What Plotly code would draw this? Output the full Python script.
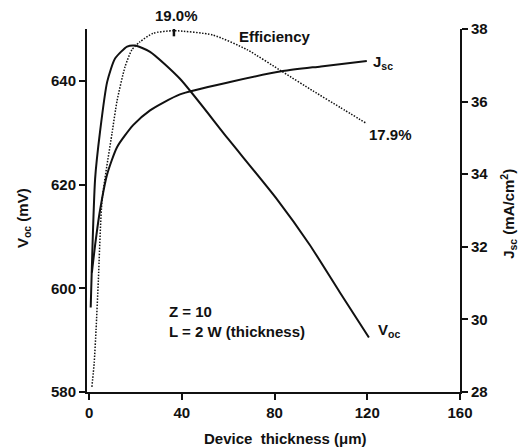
import plotly.graph_objects as go

# ---- data ----
voc_thickness = [0.7, 2.6, 4.7, 7.8, 11.2, 16.4, 19.8, 26.3, 39.2, 60.0, 81.0, 95.0, 108.2, 120.7]
voc_mv = [596.3, 621.1, 630.1, 639.8, 644.3, 646.6, 646.8, 645.6, 640.4, 628.8, 617.2, 608.5, 599.2, 590.5]

jsc_thickness = [1.2, 2.8, 4.7, 7.8, 12.1, 19.0, 26.3, 39.2, 60.8, 83.6, 100.0, 119.8]
jsc_ma = [31.29, 32.15, 33.0, 34.0, 34.75, 35.35, 35.76, 36.2, 36.54, 36.84, 36.97, 37.12]

eff_thickness = [1.2, 2.2, 3.0, 4.0, 5.6, 9.9, 12.1, 15.5, 18.5, 21.9, 27.6, 36.6, 53.4, 68.1, 83.6, 96.6, 108.2, 119.8]
eff_pct = [14.86, 15.14, 15.52, 16.1, 17.03, 17.81, 18.19, 18.58, 18.78, 18.87, 18.97, 19.0, 18.95, 18.78, 18.52, 18.30, 18.11, 17.92]

x_ticks = [0, 40, 80, 120, 160]
voc_ticks = [580, 600, 620, 640]
jsc_ticks = [28, 30, 32, 34, 36, 38]

FONT = "Liberation Sans, Arial, sans-serif"
BLACK = "#111111"

fig = go.Figure()

fig.add_trace(go.Scatter(x=voc_thickness, y=voc_mv, mode="lines", yaxis="y",
                         line=dict(color=BLACK, width=2, shape="spline", smoothing=0.6),
                         showlegend=False, hoverinfo="skip"))
fig.add_trace(go.Scatter(x=jsc_thickness, y=jsc_ma, mode="lines", yaxis="y2",
                         line=dict(color=BLACK, width=2, shape="spline", smoothing=0.6),
                         showlegend=False, hoverinfo="skip"))
fig.add_trace(go.Scatter(x=eff_thickness, y=eff_pct, mode="lines", yaxis="y3",
                         line=dict(color=BLACK, width=1.5, dash="1.5px,1.5px", shape="spline", smoothing=0.6),
                         showlegend=False, hoverinfo="skip"))

# peak marker on efficiency
i_pk = eff_pct.index(max(eff_pct))
fig.add_trace(go.Scatter(x=[eff_thickness[i_pk]], y=[eff_pct[i_pk]], mode="markers", yaxis="y3",
                         marker=dict(symbol="line-ns", size=8, line=dict(color=BLACK, width=2.5)),
                         showlegend=False, hoverinfo="skip"))

tickfont = dict(family=FONT, size=15, color=BLACK, weight="bold")
axis_common = dict(showline=True, linecolor=BLACK, linewidth=2, ticks="outside", ticklen=6,
                   tickwidth=2, tickcolor=BLACK, showgrid=False, zeroline=False, tickfont=tickfont)

fig.update_layout(
    width=521, height=447,
    margin=dict(l=87, r=61, t=29, b=55),
    paper_bgcolor="white", plot_bgcolor="white",
    xaxis=dict(range=[-0.9, 160], tickvals=x_ticks, **axis_common),
    yaxis=dict(range=[580, 650], tickvals=voc_ticks, **axis_common),
    yaxis2=dict(range=[28, 38], tickvals=jsc_ticks, overlaying="y", side="right", anchor="x", **axis_common),
    yaxis3=dict(range=[14.8, 19.02], overlaying="y", visible=False),
)

lab = dict(family=FONT, size=15, color=BLACK, weight="bold")

# curve labels
fig.add_annotation(x=eff_thickness[i_pk], y=eff_pct[i_pk], xref="x", yref="y3", text="19.0%",
                   showarrow=False, font=lab, yshift=15, xshift=3, xanchor="center", yanchor="middle")
fig.add_annotation(x=80, y=18.93, xref="x", yref="y3", text="Efficiency", showarrow=False, font=lab,
                   xanchor="center", yanchor="middle")
fig.add_annotation(x=eff_thickness[-1], y=eff_pct[-1], xref="x", yref="y3", text="17.9%",
                   showarrow=False, font=lab, xanchor="left", yanchor="middle", xshift=0, yshift=-11)
fig.add_annotation(x=jsc_thickness[-1], y=jsc_ma[-1], xref="x", yref="y2", text="J<sub>sc</sub>",
                   showarrow=False, font=lab, xanchor="left", yanchor="middle", xshift=4, yshift=-2)
fig.add_annotation(x=voc_thickness[-1], y=voc_mv[-1], xref="x", yref="y", text="V<sub>oc</sub>",
                   showarrow=False, font=lab, xanchor="left", yanchor="middle", xshift=7, yshift=7)
fig.add_annotation(x=33.6, y=593.5, xref="x", yref="y", text="Z = 10<br>L = 2 W (thickness)",
                   showarrow=False, font=lab, xanchor="left", yanchor="middle", align="left")

# axis titles
fig.add_annotation(x=-0.1716, y=0.479, xref="paper", yref="paper", text="V<sub>oc</sub> (mV)",
                   showarrow=False, font=lab, textangle=-90, xanchor="center", yanchor="middle")
fig.add_annotation(x=1.128, y=0.49, xref="paper", yref="paper", text="J<sub>sc</sub> (mA/cm<sup>2</sup>)",
                   showarrow=False, font=lab, textangle=-90, xanchor="center", yanchor="middle")
fig.add_annotation(x=0.531, y=-0.127, xref="paper", yref="paper", text="Device  thickness (\u03bcm)",
                   showarrow=False, font=lab, xanchor="center", yanchor="middle")

fig.write_html("out.html")
